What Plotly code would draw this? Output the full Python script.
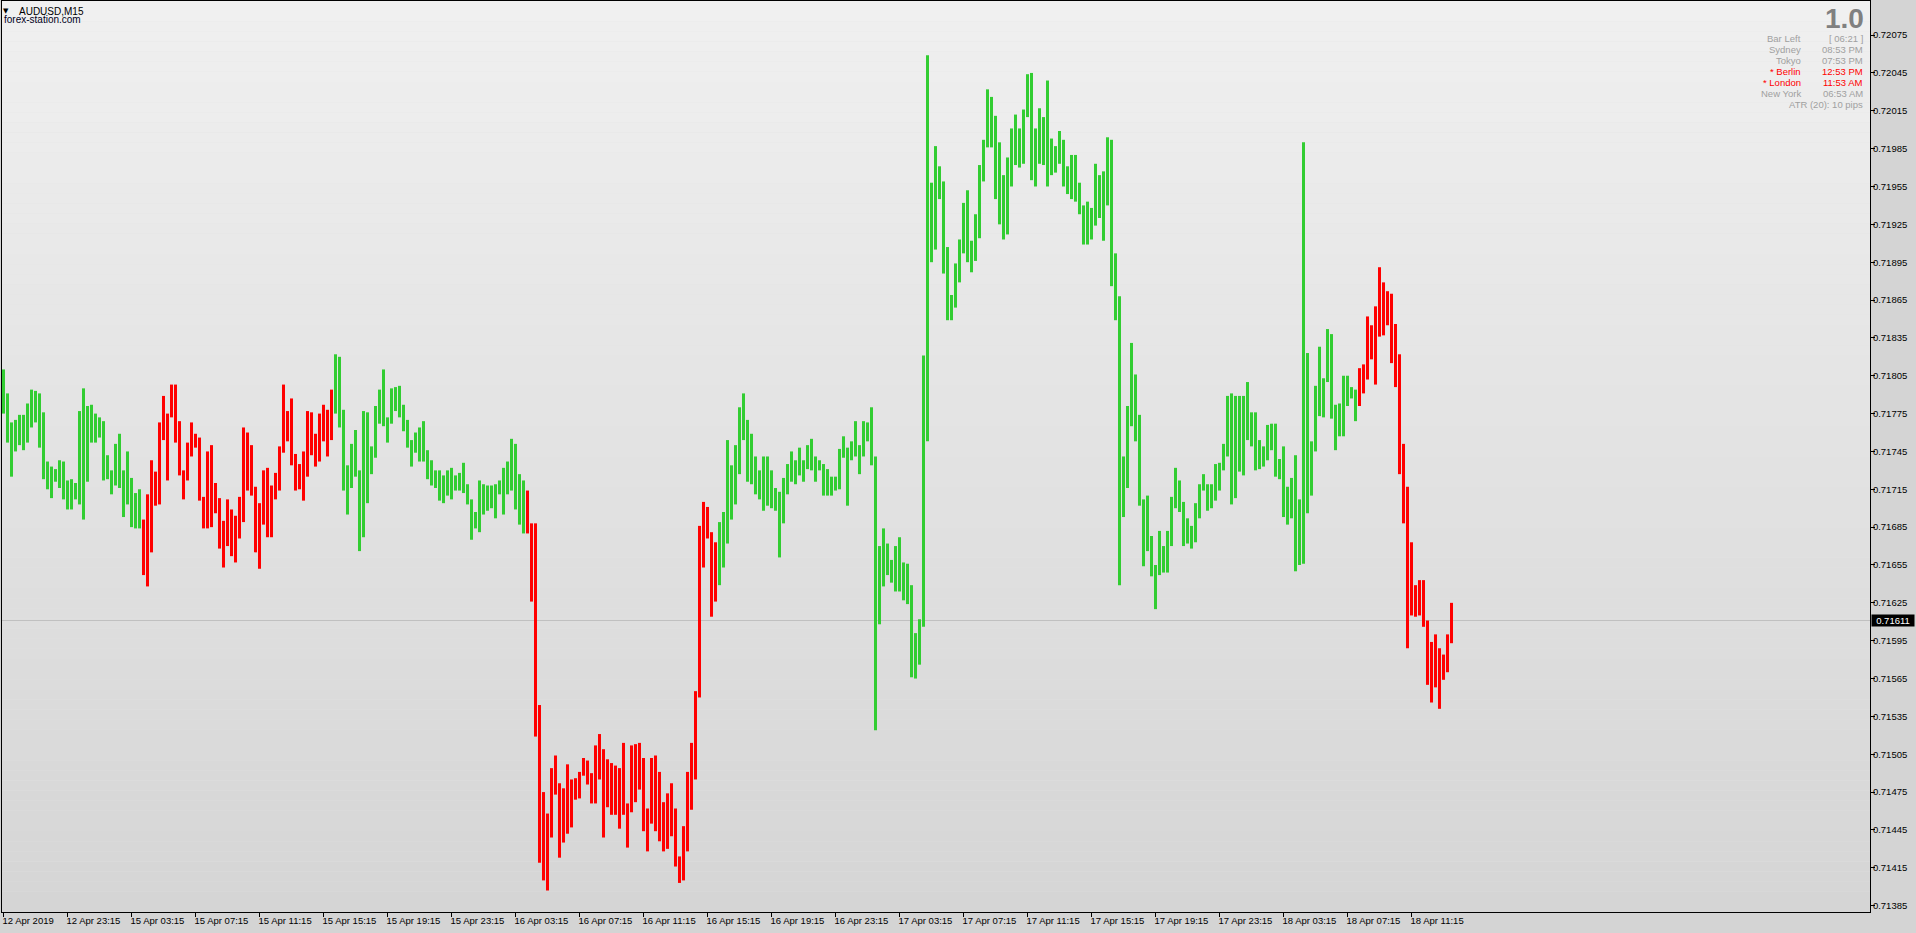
import plotly.graph_objects as go

# ---------------- data ----------------
high = [
 0.71810,0.71791,0.71768,0.71770,0.71774,0.71774,0.71783,0.71794,0.71793,0.71791,
 0.71776,0.71737,0.71733,0.71731,0.71738,0.71737,0.71722,0.71723,0.71720,0.71777,
 0.71795,0.71781,0.71782,0.71775,0.71772,0.71769,0.71742,0.71730,0.71751,0.71759,
 0.71730,0.71745,0.71724,0.71712,0.71715,0.71691,0.71711,0.71738,0.71729,0.71768,
 0.71789,0.71775,0.71798,0.71798,0.71769,0.71730,0.71752,0.71768,0.71759,0.71756,
 0.71709,0.71745,0.71750,0.71720,0.71708,0.71690,0.71707,0.71699,0.71694,0.71709,
 0.71764,0.71760,0.71750,0.71717,0.71704,0.71730,0.71732,0.71718,0.71728,0.71749,
 0.71798,0.71777,0.71787,0.71743,0.71735,0.71745,0.71777,0.71776,0.71759,0.71775,
 0.71782,0.71778,0.71794,0.71822,0.71820,0.71778,0.71734,0.71751,0.71762,0.71730,
 0.71777,0.71776,0.71749,0.71781,0.71794,0.71810,0.71772,0.71795,0.71796,0.71797,
 0.71782,0.71770,0.71754,0.71760,0.71764,0.71769,0.71746,0.71738,0.71730,0.71730,
 0.71726,0.71730,0.71732,0.71726,0.71728,0.71736,0.71719,0.71707,0.71697,0.71722,
 0.71719,0.71718,0.71718,0.71719,0.71722,0.71732,0.71737,0.71755,0.71751,0.71727,
 0.71722,0.71714,0.71688,0.71688,0.71544,0.71475,0.71458,0.71494,0.71504,0.71482,
 0.71478,0.71497,0.71485,0.71486,0.71491,0.71502,0.71500,0.71490,0.71512,0.71521,
 0.71509,0.71501,0.71498,0.71496,0.71494,0.71514,0.71466,0.71512,0.71513,0.71514,
 0.71502,0.71462,0.71502,0.71504,0.71491,0.71467,0.71474,0.71482,0.71462,0.71424,
 0.71448,0.71491,0.71514,0.71555,0.71686,0.71705,0.71701,0.71681,0.71673,0.71689,
 0.71697,0.71754,0.71734,0.71750,0.71780,0.71791,0.71770,0.71759,0.71741,0.71730,
 0.71741,0.71741,0.71730,0.71716,0.71713,0.71724,0.71735,0.71745,0.71738,0.71748,
 0.71738,0.71750,0.71755,0.71741,0.71738,0.71735,0.71731,0.71725,0.71725,0.71747,
 0.71757,0.71748,0.71753,0.71769,0.71750,0.71769,0.71768,0.71780,0.71741,0.71670,
 0.71684,0.71672,0.71659,0.71670,0.71677,0.71657,0.71656,0.71639,0.71601,0.71612,
 0.71821,0.72059,0.71958,0.71987,0.71971,0.71959,0.71907,0.71869,0.71894,0.71913,
 0.71942,0.71952,0.71912,0.71933,0.71972,0.71992,0.72032,0.72026,0.72011,0.71990,
 0.71964,0.71978,0.72001,0.72012,0.72001,0.72016,0.72044,0.72045,0.72001,0.72017,
 0.72010,0.72039,0.71993,0.71987,0.71999,0.71992,0.71971,0.71980,0.71980,0.71958,
 0.71940,0.71943,0.71938,0.71973,0.71964,0.71967,0.71994,0.71992,0.71902,0.71868,
 0.71741,0.71781,0.71831,0.71806,0.71774,0.71707,0.71710,0.71678,0.71655,0.71682,
 0.71670,0.71682,0.71709,0.71732,0.71722,0.71705,0.71692,0.71686,0.71704,0.71719,
 0.71727,0.71719,0.71719,0.71735,0.71736,0.71751,0.71789,0.71791,0.71789,0.71789,
 0.71789,0.71800,0.71776,0.71776,0.71754,0.71749,0.71766,0.71767,0.71767,0.71739,
 0.71749,0.71717,0.71724,0.71742,0.71707,0.71990,0.71823,0.71753,0.71797,0.71828,
 0.71803,0.71842,0.71838,0.71782,0.71783,0.71805,0.71805,0.71796,0.71794,0.71811,
 0.71814,0.71852,0.71845,0.71860,0.71891,0.71879,0.71872,0.71870,0.71846,0.71822,
 0.71751,0.71717,0.71673,0.71639,0.71643,0.71643,0.71611,0.71594,0.71600,0.71589,
 0.71584,0.71600,0.71625,
]
low = [
 0.71775,0.71752,0.71725,0.71745,0.71750,0.71746,0.71752,0.71764,0.71768,0.71748,
 0.71723,0.71715,0.71708,0.71721,0.71716,0.71707,0.71699,0.71699,0.71707,0.71703,
 0.71691,0.71721,0.71752,0.71752,0.71756,0.71722,0.71723,0.71711,0.71718,0.71716,
 0.71693,0.71703,0.71685,0.71684,0.71684,0.71647,0.71638,0.71665,0.71702,0.71703,
 0.71754,0.71722,0.71772,0.71752,0.71726,0.71707,0.71722,0.71741,0.71748,0.71706,
 0.71684,0.71684,0.71685,0.71696,0.71668,0.71653,0.71670,0.71662,0.71657,0.71676,
 0.71689,0.71714,0.71710,0.71665,0.71652,0.71687,0.71677,0.71677,0.71707,0.71714,
 0.71744,0.71753,0.71734,0.71714,0.71715,0.71706,0.71725,0.71742,0.71733,0.71737,
 0.71753,0.71741,0.71754,0.71775,0.71764,0.71714,0.71695,0.71716,0.71725,0.71666,
 0.71677,0.71704,0.71727,0.71740,0.71767,0.71765,0.71752,0.71767,0.71777,0.71772,
 0.71761,0.71748,0.71733,0.71744,0.71737,0.71737,0.71723,0.71718,0.71716,0.71706,
 0.71704,0.71710,0.71707,0.71714,0.71714,0.71712,0.71703,0.71675,0.71684,0.71681,
 0.71695,0.71698,0.71700,0.71692,0.71711,0.71695,0.71711,0.71714,0.71699,0.71687,
 0.71680,0.71680,0.71626,0.71519,0.71419,0.71405,0.71397,0.71439,0.71473,0.71423,
 0.71435,0.71442,0.71447,0.71469,0.71470,0.71488,0.71481,0.71466,0.71466,0.71485,
 0.71439,0.71463,0.71457,0.71457,0.71446,0.71457,0.71431,0.71459,0.71467,0.71477,
 0.71444,0.71428,0.71450,0.71444,0.71436,0.71428,0.71430,0.71440,0.71416,0.71403,
 0.71405,0.71428,0.71461,0.71485,0.71550,0.71653,0.71676,0.71614,0.71626,0.71639,
 0.71653,0.71672,0.71691,0.71703,0.71727,0.71754,0.71721,0.71719,0.71711,0.71707,
 0.71698,0.71702,0.71700,0.71698,0.71661,0.71688,0.71711,0.71721,0.71719,0.71726,
 0.71721,0.71731,0.71730,0.71721,0.71730,0.71710,0.71710,0.71710,0.71714,0.71715,
 0.71740,0.71702,0.71738,0.71741,0.71727,0.71741,0.71753,0.71734,0.71524,0.71608,
 0.71638,0.71647,0.71641,0.71634,0.71634,0.71627,0.71624,0.71566,0.71565,0.71576,
 0.71606,0.71753,0.71895,0.71905,0.71945,0.71886,0.71849,0.71849,0.71859,0.71879,
 0.71902,0.71895,0.71887,0.71896,0.71914,0.71959,0.71986,0.71986,0.71945,0.71925,
 0.71913,0.71917,0.71955,0.71972,0.71970,0.71973,0.72010,0.71960,0.71955,0.71973,
 0.71972,0.71955,0.71964,0.71966,0.71973,0.71955,0.71949,0.71945,0.71943,0.71933,
 0.71909,0.71909,0.71913,0.71924,0.71930,0.71912,0.71940,0.71876,0.71849,0.71639,
 0.71693,0.71716,0.71765,0.71753,0.71702,0.71654,0.71666,0.71646,0.71620,0.71647,
 0.71649,0.71649,0.71670,0.71700,0.71697,0.71670,0.71672,0.71668,0.71673,0.71692,
 0.71714,0.71698,0.71700,0.71706,0.71714,0.71730,0.71741,0.71703,0.71708,0.71729,
 0.71726,0.71754,0.71749,0.71730,0.71731,0.71733,0.71738,0.71746,0.71725,0.71723,
 0.71693,0.71687,0.71692,0.71650,0.71655,0.71656,0.71696,0.71710,0.71745,0.71773,
 0.71772,0.71800,0.71771,0.71746,0.71757,0.71757,0.71781,0.71787,0.71769,0.71781,
 0.71791,0.71802,0.71818,0.71798,0.71836,0.71837,0.71845,0.71815,0.71796,0.71727,
 0.71688,0.71589,0.71615,0.71614,0.71615,0.71606,0.71560,0.71546,0.71558,0.71541,
 0.71564,0.71570,0.71593,
]
# trend colouring: (first bar, last bar, direction)
trend_segments = [(0, 34, "up"), (35, 82, "down"), (83, 130, "up"),
                  (131, 178, "down"), (179, 338, "up"), (339, 362, "down")]

time_labels = ["12 Apr 2019", "12 Apr 23:15", "15 Apr 03:15", "15 Apr 07:15",
               "15 Apr 11:15", "15 Apr 15:15", "15 Apr 19:15", "15 Apr 23:15",
               "16 Apr 03:15", "16 Apr 07:15", "16 Apr 11:15", "16 Apr 15:15",
               "16 Apr 19:15", "16 Apr 23:15", "17 Apr 03:15", "17 Apr 07:15",
               "17 Apr 11:15", "17 Apr 15:15", "17 Apr 19:15", "17 Apr 23:15",
               "18 Apr 03:15", "18 Apr 07:15", "18 Apr 11:15"]
bars_per_label = 16

price_ticks = [0.71385, 0.71415, 0.71445, 0.71475, 0.71505, 0.71535, 0.71565,
               0.71595, 0.71625, 0.71655, 0.71685, 0.71715, 0.71745, 0.71775,
               0.71805, 0.71835, 0.71865, 0.71895, 0.71925, 0.71955, 0.71985,
               0.72015, 0.72045, 0.72075]
last_price = 0.71611

symbol_text = "AUDUSD,M15"
site_text = "forex-station.com"
version_text = "1.0"
info_labels = ["Bar Left", "Sydney", "Tokyo", "* Berlin", "* London", "New York"]
info_values = ["[ 06:21 ]", "08:53 PM", "07:53 PM", "12:53 PM", "11:53 AM", "06:53 AM"]
info_active = [False, False, False, True, True, False]
atr_text = "ATR (20): 10 pips"

# ---------------- figure ----------------
W, H = 1916, 933
ML, MR, MT, MB = 2, 46, 1, 21
PW, PH = W - ML - MR, H - MT - MB
FONT = "Liberation Sans, Arial, sans-serif"
UP, DOWN = "#32cd32", "#ff0000"

def pxx(x):
    return (x - ML) / PW

def pxy(y):
    return 1 - (y - MT) / PH

direction = []
for s, e, d in trend_segments:
    direction += [d] * (e - s + 1)

fig = go.Figure()
for d, col in (("up", UP), ("down", DOWN)):
    xs = [i for i in range(len(high)) if direction[i] == d]
    fig.add_trace(go.Bar(
        x=xs,
        y=[high[i] - low[i] for i in xs],
        base=[low[i] for i in xs],
        width=0.75,
        marker=dict(color=col, line=dict(width=0)),
        hoverinfo="skip",
        showlegend=False,
    ))

# scales: 4 px per bar, 0.0003 per 37.85 px
step_px = 4.0
x0 = -0.375
x1 = x0 + PW / step_px
px_per_price = 37.85 / 0.0003
y_last_px = 620.5
ymax = last_price + (y_last_px - MT) / px_per_price
ymin = ymax - PH / px_per_price

# background gradient
shapes = []
N = 90
top_c, bot_c = (240, 240, 240), (213, 213, 213)
for k in range(N):
    t = (k + 0.5) / N
    c = tuple(int(round(bot_c[j] + (top_c[j] - bot_c[j]) * t)) for j in range(3))
    shapes.append(dict(type="rect", xref="paper", yref="paper",
                       x0=0, x1=1, y0=k / N, y1=(k + 1) / N,
                       fillcolor="rgb(%d,%d,%d)" % c, line=dict(width=0),
                       layer="below"))
shapes.append(dict(type="line", xref="paper", yref="y", x0=0, x1=1,
                   y0=last_price, y1=last_price,
                   line=dict(color="#c0c0c0", width=1), layer="below"))

ann = []
ann.append(dict(text="▼", xref="paper", yref="paper", x=pxx(5.5), y=pxy(11),
                xanchor="center", yanchor="middle", showarrow=False,
                font=dict(family="DejaVu Sans", size=7, color="black")))
ann.append(dict(text=symbol_text, xref="paper", yref="paper", x=pxx(17), y=pxy(11),
                xanchor="left", yanchor="middle", showarrow=False,
                font=dict(family=FONT, size=10, color="black")))
ann.append(dict(text=site_text, xref="paper", yref="paper", x=pxx(2), y=pxy(19),
                xanchor="left", yanchor="middle", showarrow=False,
                font=dict(family=FONT, size=10, color="#000020")))
ann.append(dict(text=version_text, xref="paper", yref="paper", x=pxx(1866), y=pxy(18),
                xanchor="right", yanchor="middle", showarrow=False,
                font=dict(family=FONT, size=28, color="#808080", weight="bold")))
row_y = [38.5, 49.5, 60.5, 71.5, 82.5, 93.5]
for lab, val, act, yy in zip(info_labels, info_values, info_active, row_y):
    col = "#ff0000" if act else "#a0a0a0"
    ann.append(dict(text=lab, xref="paper", yref="paper", x=pxx(1803), y=pxy(yy),
                    xanchor="right", yanchor="middle", showarrow=False,
                    font=dict(family=FONT, size=9.5, color=col)))
    ann.append(dict(text=val, xref="paper", yref="paper", x=pxx(1865), y=pxy(yy),
                    xanchor="right", yanchor="middle", showarrow=False,
                    font=dict(family=FONT, size=9.5, color=col)))
ann.append(dict(text=atr_text, xref="paper", yref="paper", x=pxx(1865), y=pxy(104.5),
                xanchor="right", yanchor="middle", showarrow=False,
                font=dict(family=FONT, size=9.5, color="#a0a0a0")))
ann.append(dict(text="%.5f" % last_price, xref="paper", yref="y", x=1, y=last_price,
                xanchor="left", yanchor="middle", xshift=1, showarrow=False,
                bgcolor="black", borderpad=1, width=40, height=9, align="center",
                font=dict(family=FONT, size=9.5, color="white")))

fig.update_layout(
    width=W, height=H,
    margin=dict(l=ML, r=MR, t=MT, b=MB, pad=0),
    paper_bgcolor="#d4d4d4",
    plot_bgcolor="#e2e2e2",
    barmode="overlay",
    showlegend=False,
    shapes=shapes,
    annotations=ann,
    font=dict(family=FONT, size=9.5, color="black"),
    xaxis=dict(
        range=[x0, x1], showgrid=False, zeroline=False,
        showline=True, linecolor="black", linewidth=1, mirror=True,
        ticks="outside", ticklen=4, tickcolor="black", tickwidth=1,
        tickvals=[k * bars_per_label for k in range(len(time_labels))],
        ticktext=time_labels, ticklabelposition="outside right",
        ticklabelshift=-2,
        tickfont=dict(family=FONT, size=9.5, color="black"),
        fixedrange=True,
    ),
    yaxis=dict(
        range=[ymin, ymax], side="right", showgrid=False, zeroline=False,
        showline=True, linecolor="black", linewidth=1, mirror=True,
        ticks="outside", ticklen=4, tickcolor="black", tickwidth=1,
        tickvals=price_ticks, tickformat=".5f",
        ticklabelstandoff=-4,
        tickfont=dict(family=FONT, size=9.5, color="black"),
        fixedrange=True,
    ),
)

fig.write_html(
    "out.html",
    include_plotlyjs=True,
    config={"displayModeBar": False, "staticPlot": True},
    post_script="document.body.style.margin='0px';document.body.style.overflow='hidden';",
)
